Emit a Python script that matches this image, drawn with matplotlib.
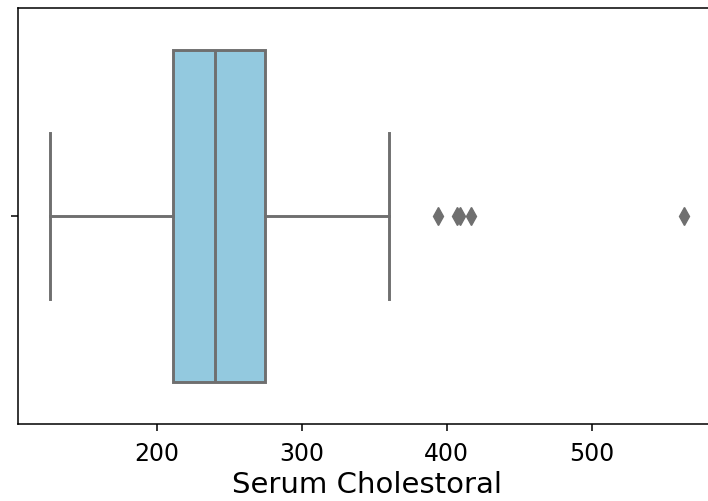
import matplotlib
matplotlib.use("Agg")
import matplotlib.pyplot as plt

# summary values
whisker_low = 126
q1 = 211
median = 240
q3 = 274.5
whisker_high = 360
outliers = [394, 407, 409, 417, 564]

box_color = "#93c9df"
line_color = "#6f6f6f"

fig = plt.figure(figsize=(7.08, 5.02), dpi=100)
# axes run past the right edge, as in the cropped reference
ax = fig.add_axes([18 / 708, 77 / 502, 698 / 708, 416 / 502])

stats = [{
    "whislo": whisker_low, "q1": q1, "med": median, "q3": q3,
    "whishi": whisker_high, "fliers": outliers,
}]
lw = 2.1
ax.bxp(stats, positions=[0], widths=0.8, vert=False, patch_artist=True,
       boxprops=dict(facecolor=box_color, edgecolor=line_color, linewidth=lw),
       medianprops=dict(color=line_color, linewidth=lw),
       whiskerprops=dict(color=line_color, linewidth=lw),
       capprops=dict(color=line_color, linewidth=lw),
       flierprops=dict(marker="d", markerfacecolor=line_color,
                       markeredgecolor=line_color, markersize=9,
                       linestyle="none"),
       capwidths=0.4)

span = outliers[-1] - whisker_low
ax.set_xlim(whisker_low - 0.05 * span, outliers[-1] + 0.05 * span)
ax.set_ylim(0.5, -0.5)
ax.set_yticks([0])
ax.set_yticklabels([""])
ax.set_xticks([200, 300, 400, 500])
ax.tick_params(labelsize=17, width=1.1, length=5, pad=7)
for s in ax.spines.values():
    s.set_linewidth(1.1)
ax.set_xlabel("Serum Cholestoral", fontsize=21, labelpad=4)

fig.savefig("out.png", dpi=100)
